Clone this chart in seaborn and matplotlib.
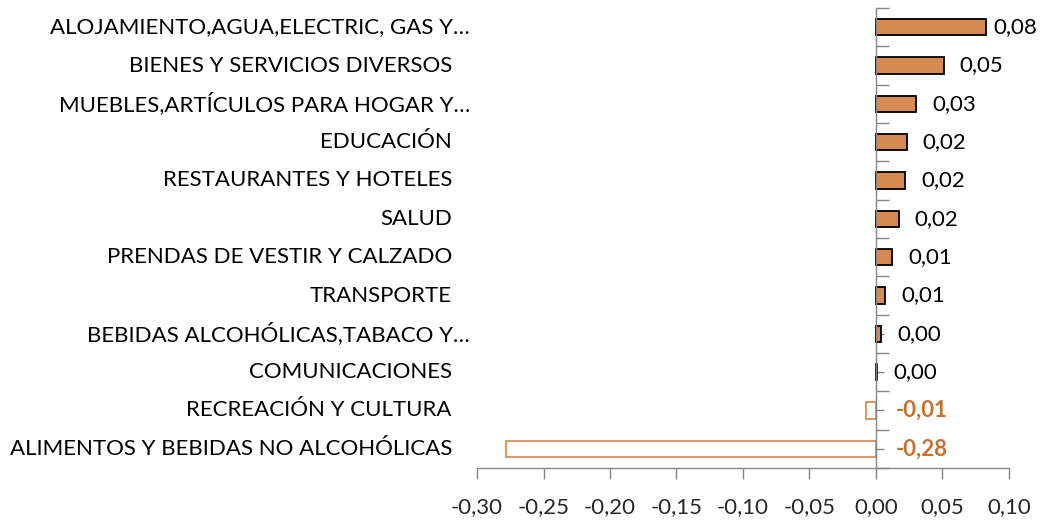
import matplotlib
matplotlib.use("Agg")
import matplotlib.pyplot as plt
import seaborn as sns
import pandas as pd
from matplotlib.ticker import FixedLocator, FuncFormatter

categorias = [
    "ALOJAMIENTO,AGUA,ELECTRIC, GAS Y…",
    "BIENES Y SERVICIOS DIVERSOS",
    "MUEBLES,ARTÍCULOS PARA HOGAR Y…",
    "EDUCACIÓN",
    "RESTAURANTES Y HOTELES",
    "SALUD",
    "PRENDAS DE VESTIR Y CALZADO",
    "TRANSPORTE",
    "BEBIDAS ALCOHÓLICAS,TABACO Y…",
    "COMUNICACIONES",
    "RECREACIÓN Y CULTURA",
    "ALIMENTOS Y BEBIDAS NO ALCOHÓLICAS",
]
valores = [0.0825, 0.051, 0.030, 0.023, 0.022, 0.017, 0.012, 0.007, 0.004, 0.001, -0.0075, -0.278]
etiquetas = ["0,08", "0,05", "0,03", "0,02", "0,02", "0,02", "0,01", "0,01", "0,00", "0,00", "-0,01", "-0,28"]
x_ticks = [-0.30, -0.25, -0.20, -0.15, -0.10, -0.05, 0.00, 0.05, 0.10]

df = pd.DataFrame({"categoria": categorias, "valor": valores})

sns.set_style("white")
plt.rcParams["font.family"] = ["Lato", "DejaVu Sans"]

fig = plt.figure(figsize=(10.42, 5.23), dpi=100)
ax = fig.add_axes([477 / 1042, 1 - 468 / 523, 532 / 1042, 460 / 523])

sns.barplot(data=df, x="valor", y="categoria", orient="h", width=0.42, ax=ax)

relleno = "#D68A52"
naranja = "#E08A4E"
gris = "#868686"
for p, v in zip(ax.patches, valores):
    if v >= 0:
        p.set_facecolor(relleno)
        p.set_edgecolor("black")
        p.set_linewidth(1.3)
    else:
        p.set_facecolor("white")
        p.set_edgecolor(naranja)
        p.set_linewidth(1.3)

ax.set_xlim(-0.30, 0.10)
ax.set_ylim(len(categorias) - 0.5, -0.5)
ax.set_xlabel("")
ax.set_ylabel("")

ax.xaxis.set_major_locator(FixedLocator(x_ticks))
ax.xaxis.set_major_formatter(FuncFormatter(lambda x, pos: f"{x:.2f}".replace(".", ",")))
ax.tick_params(axis="x", bottom=True, direction="out", length=8, width=1, color=gris, labelsize=16, pad=13)

ax.yaxis.set_major_locator(FixedLocator([i - 0.5 for i in range(len(categorias) + 1)]))
ax.yaxis.set_minor_locator(FixedLocator(list(range(len(categorias)))))
ax.set_yticklabels([])
ax.tick_params(axis="y", which="major", left=True, direction="in", length=9, width=1, color=gris, labelleft=False)
ax.tick_params(axis="y", which="minor", left=True, direction="in", length=6, width=1, color=gris, labelleft=False)

for s in ["top", "right"]:
    ax.spines[s].set_visible(False)
ax.spines["left"].set_position(("data", 0))
for s in ["left", "bottom"]:
    ax.spines[s].set_color(gris)
    ax.spines[s].set_linewidth(1)

# category names
ytrans = ax.get_yaxis_transform()
for i, c in enumerate(categorias):
    xpos = -0.013 if c.endswith("…") else -0.047
    ax.text(xpos, i, c, transform=ytrans, ha="right", va="center", fontsize=16, color="black")

# value labels
px_per_unit = 532 / 0.40
for i, (v, t) in enumerate(zip(valores, etiquetas)):
    if v >= 0:
        end_px = 876 + v * px_per_unit
        off = min(16, 993 - end_px)
        ax.annotate(t, xy=(v, i), xytext=(off, 0), textcoords="offset pixels",
                    ha="left", va="center", fontsize=16, color="black")
    else:
        ax.annotate(t, xy=(0, i), xytext=(20, 0), textcoords="offset pixels",
                    ha="left", va="center", fontsize=16, fontweight="bold", color="#C8712E")

fig.savefig("out.png", dpi=100)
